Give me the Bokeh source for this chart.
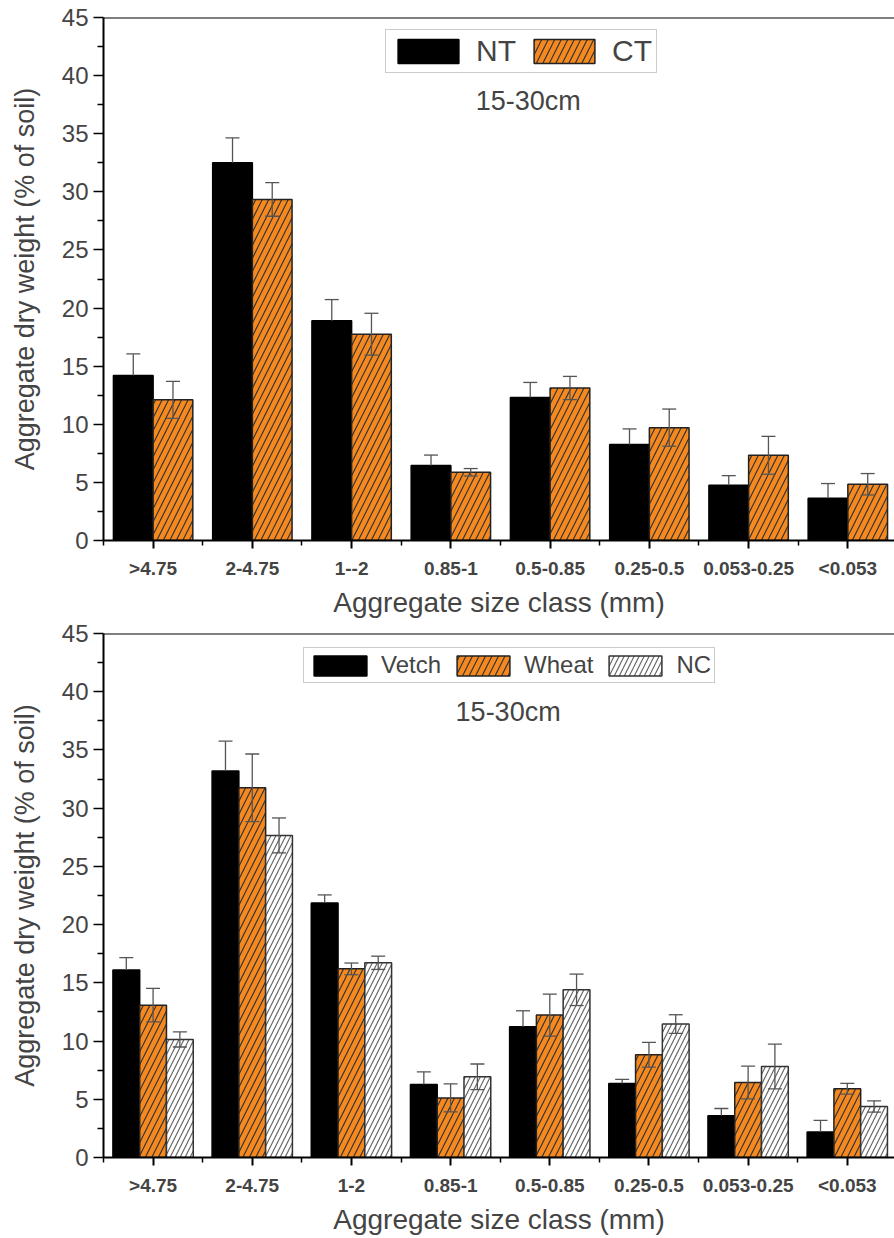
from bokeh.plotting import figure
from bokeh.models import (ColumnDataSource, Whisker, TeeHead, FixedTicker, Range1d,
                          Legend, LegendItem, Label, Span)
from bokeh.layouts import column
from bokeh.embed import file_html
from bokeh.resources import INLINE

# ---------------- data ----------------
classes_top = [">4.75", "2-4.75", "1--2", "0.85-1", "0.5-0.85", "0.25-0.5", "0.053-0.25", "<0.053"]
classes_bot = [">4.75", "2-4.75", "1-2", "0.85-1", "0.5-0.85", "0.25-0.5", "0.053-0.25", "<0.053"]

nt = [14.2, 32.5, 18.9, 6.45, 12.3, 8.25, 4.75, 3.63]
nt_err = [1.85, 2.15, 1.83, 0.9, 1.3, 1.35, 0.83, 1.27]
ct = [12.1, 29.35, 17.75, 5.87, 13.12, 9.71, 7.33, 4.84]
ct_err = [1.6, 1.45, 1.8, 0.32, 1.0, 1.6, 1.63, 0.92]

vetch = [16.1, 33.2, 21.85, 6.27, 11.23, 6.36, 3.58, 2.18]
vetch_err = [1.07, 2.55, 0.7, 1.09, 1.37, 0.35, 0.63, 1.0]
wheat = [13.08, 31.75, 16.2, 5.12, 12.23, 8.82, 6.44, 5.9]
wheat_err = [1.44, 2.9, 0.5, 1.2, 1.8, 1.06, 1.4, 0.46]
nc = [10.14, 27.66, 16.72, 6.93, 14.4, 11.46, 7.82, 4.38]
nc_err = [0.65, 1.5, 0.57, 1.1, 1.35, 0.8, 1.92, 0.49]

y_ticks = [0, 5, 10, 15, 20, 25, 30, 35, 40, 45]

ORANGE = "#F5891F"
FONT = "Liberation Sans"


def make_fig(height, border_top, border_bottom, border_left, x_end, labels):
    p = figure(width=894, height=height, output_backend="svg", toolbar_location=None,
               x_range=Range1d(-0.5, x_end), y_range=Range1d(0, 45),
               min_border_top=border_top, min_border_bottom=border_bottom,
               min_border_left=border_left, min_border_right=0)
    p.outline_line_color = None
    p.xgrid.visible = False
    p.ygrid.visible = False
    p.background_fill_color = "white"
    p.border_fill_color = "white"

    xa = p.xaxis[0]
    xa.ticker = FixedTicker(ticks=list(range(len(labels))),
                            minor_ticks=[-0.5 + i for i in range(len(labels) + 1)])
    xa.major_label_overrides = {i: lab for i, lab in enumerate(labels)}
    xa.major_tick_in = 0
    xa.major_tick_out = 8
    xa.minor_tick_in = 0
    xa.minor_tick_out = 5
    xa.axis_line_width = 2
    xa.major_tick_line_width = 2
    xa.minor_tick_line_width = 1.5
    xa.major_label_text_font = FONT
    xa.major_label_text_font_style = "bold"
    xa.major_label_text_font_size = "19px"
    xa.major_label_standoff = 9
    xa.axis_label = "Aggregate size class (mm)"
    xa.axis_label_text_font = FONT
    xa.axis_label_text_font_style = "normal"
    xa.axis_label_text_font_size = "28px"
    xa.axis_label_standoff = 5

    ya = p.yaxis[0]
    ya.ticker = FixedTicker(ticks=y_ticks, minor_ticks=[2.5 + 5 * i for i in range(9)])
    ya.major_tick_in = 0
    ya.major_tick_out = 10
    ya.minor_tick_in = 0
    ya.minor_tick_out = 6
    ya.axis_line_width = 2
    ya.major_tick_line_width = 1.5
    ya.minor_tick_line_width = 1.5
    ya.major_label_text_font = FONT
    ya.major_label_text_font_size = "24px"
    ya.major_label_standoff = 5
    ya.axis_label = "Aggregate dry weight (% of soil)"
    ya.axis_label_text_font = FONT
    ya.axis_label_text_font_style = "normal"
    ya.axis_label_text_font_size = "27px"
    ya.axis_label_standoff = 19

    p.add_layout(Span(location=45, dimension="width", line_color="black", line_width=2))
    return p


def whisker(p, xs, vals, errs, lower=True):
    lo = [v - e for v, e in zip(vals, errs)] if lower else list(vals)
    src = ColumnDataSource(dict(x=xs, upper=[v + e for v, e in zip(vals, errs)], lower=lo))
    w = Whisker(base="x", upper="upper", lower="lower", source=src,
                line_color="#555555", line_width=1.3, level="overlay",
                upper_head=TeeHead(size=14, line_color="#555555", line_width=1.3),
                lower_head=TeeHead(size=14, line_color="#555555", line_width=1.3)
                if lower else None)
    p.add_layout(w)


# ---------------- top chart ----------------
p1 = make_fig(620, 17, 79, 103, 7.47, classes_top)
xs = list(range(len(classes_top)))
x_nt = [x - 0.2 for x in xs]
x_ct = [x + 0.2 for x in xs]
r_nt = p1.vbar(x=x_nt, top=nt, width=0.4, bottom=0, fill_color="black", line_color="black",
               line_width=1.5)
r_ct = p1.vbar(x=x_ct, top=ct, width=0.4, bottom=0, fill_color=ORANGE, line_color="#222222",
               line_width=1.5, hatch_pattern="/", hatch_color="#333333", hatch_scale=13,
               hatch_weight=1.2)
whisker(p1, x_nt, nt, nt_err, lower=False)
whisker(p1, x_ct, ct, ct_err)

leg1 = Legend(items=[LegendItem(label="NT", renderers=[r_nt]),
                     LegendItem(label="CT", renderers=[r_ct])],
              orientation="horizontal", location=(282, 467),
              glyph_width=76, glyph_height=30, label_text_font=FONT,
              label_text_font_size="30px", label_standoff=10, spacing=10, padding=4,
              margin=0, border_line_color="#999999", border_line_width=1.5,
              label_height=30)
p1.add_layout(leg1)
p1.add_layout(Label(x=3.78, y=37.8, text="15-30cm", text_font=FONT, text_font_size="27px",
                    text_align="center", text_baseline="middle"))

# ---------------- bottom chart ----------------
p2 = make_fig(618, 13, 81, 98, 7.476, classes_bot)
x_v = [x - 0.27 for x in xs]
x_w = list(xs)
x_n = [x + 0.27 for x in xs]
r_v = p2.vbar(x=x_v, top=vetch, width=0.27, bottom=0, fill_color="black", line_color="black",
              line_width=1.5)
r_w = p2.vbar(x=x_w, top=wheat, width=0.27, bottom=0, fill_color=ORANGE, line_color="#222222",
              line_width=1.5, hatch_pattern="/", hatch_color="#333333", hatch_scale=13,
              hatch_weight=1.2)
r_n = p2.vbar(x=x_n, top=nc, width=0.27, bottom=0, fill_color="white", line_color="#333333",
              line_width=1.5, hatch_pattern="/", hatch_color="#666666", hatch_scale=10,
              hatch_weight=1.2)
whisker(p2, x_v, vetch, vetch_err, lower=False)
whisker(p2, x_w, wheat, wheat_err)
whisker(p2, x_n, nc, nc_err)

leg2 = Legend(items=[LegendItem(label="Vetch", renderers=[r_v]),
                     LegendItem(label="Wheat", renderers=[r_w]),
                     LegendItem(label="NC", renderers=[r_n])],
              orientation="horizontal", location=(200, 474),
              glyph_width=66, glyph_height=25, label_text_font=FONT,
              label_text_font_size="24px", label_standoff=8, spacing=9, padding=3,
              margin=0, border_line_color="#999999", border_line_width=1.5,
              label_height=25)
p2.add_layout(leg2)
p2.add_layout(Label(x=3.58, y=38.3, text="15-30cm", text_font=FONT, text_font_size="27px",
                    text_align="center", text_baseline="middle"))

layout = column(p1, p2, spacing=0)
open("out.html", "w").write(file_html(layout, INLINE))
